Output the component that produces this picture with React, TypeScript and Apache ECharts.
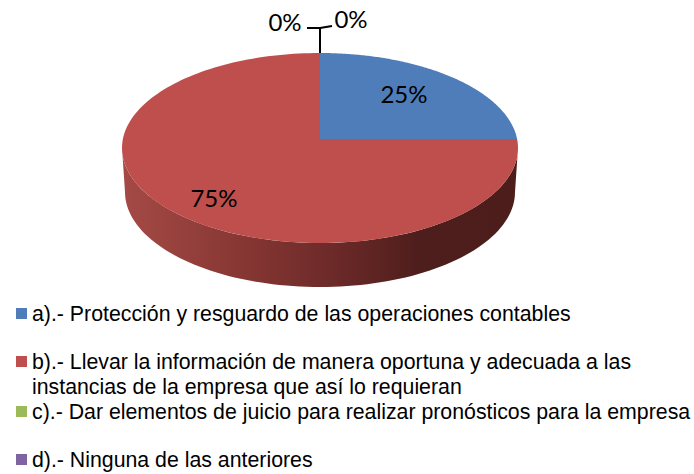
import React, { useEffect, useRef } from "react";
import * as echarts from "echarts";

const categories = [
  "a).- Protección y resguardo de las operaciones contables",
  "b).- Llevar la información de manera oportuna y adecuada a las",
  "c).- Dar elementos de juicio para realizar pronósticos para la empresa",
  "d).- Ninguna de las anteriores",
];
const secondLine = "instancias de la empresa que así lo requieran";
const values = [25, 75, 0, 0];
const colors = ["#4F7DBA", "#BE4F4C", "#9BBB59", "#8064A2"];

const CX = 320, CY = 148, RX = 198, RY = 95, APEX_Y = 139, DEPTH = 44, RX_LOW = 195;
const labelPos = [[404, 93], [214, 197], [285, 21], [351, 18]];
const legendCenters = [314, 362, 412, 460];
const LEGEND_FONT = 21.3;
const total = values.reduce((a, b) => a + b, 0);

// Ellipse parameter hit by the ray leaving the apex at pie angle t (clockwise from top).
function rayPhi(t: number) {
  const p = (CY - APEX_Y) / RY; // apex height above the ellipse centre, unit circle space
  const dx = Math.sin(t), dy = Math.cos(t);
  const b = p * dy;
  const s = -b + Math.sqrt(b * b - (p * p - 1));
  return Math.atan2(dx * s, p + dy * s);
}
const norm = (a: number) => (a < -1e-9 ? a + Math.PI * 2 : a);
const rimPoint = (phi: number, drop = 0, rx = RX) => [CX + rx * Math.sin(phi), CY - RY * Math.cos(phi) + drop];

function renderSlice(params: any, api: any) {
  const i = params.seriesIndex;
  const v = api.value(0);
  const startT = (values.slice(0, i).reduce((a, b) => a + b, 0) / total) * Math.PI * 2;
  const endT = startT + (v / total) * Math.PI * 2;
  const children: any[] = [];
  if (v > 0) {
    const a0 = norm(rayPhi(startT));
    let a1 = norm(rayPhi(endT));
    if (a1 <= a0) a1 += Math.PI * 2;
    const lo = Math.max(a0, Math.PI / 2), hi = Math.min(a1, (Math.PI * 3) / 2);
    if (hi > lo) {
      const top: number[][] = [], bottom: number[][] = [];
      for (let k = 0; k <= 90; k++) {
        const phi = lo + ((hi - lo) * k) / 90;
        top.push(rimPoint(phi));
        bottom.unshift(rimPoint(phi, DEPTH, RX_LOW));
      }
      children.push({
        type: "polygon",
        shape: { points: [...top, ...bottom] },
        style: {
          fill: new echarts.graphic.LinearGradient(0, 0, 1, 0, [
            { offset: 0, color: "#A54A46" },
            { offset: 0.3, color: "#873733" },
            { offset: 0.55, color: "#6A2928" },
            { offset: 0.75, color: "#4E1E1C" },
            { offset: 1, color: "#4C1D1B" },
          ]),
        },
      });
    }
    const face: number[][] = [[CX, APEX_Y]];
    for (let k = 0; k <= 180; k++) face.push(rimPoint(a0 + ((a1 - a0) * k) / 180));
    children.push({ type: "polygon", shape: { points: face }, style: { fill: colors[i] } });
  }
  children.push({
    type: "text",
    z2: 10,
    style: {
      x: labelPos[i][0],
      y: labelPos[i][1],
      text: `${Math.round((v / total) * 100)}%`,
      fill: "#000",
      font: '24px Lato, sans-serif',
      align: "center",
      verticalAlign: "middle",
    },
  });
  // Leader lines of the two empty slices
  if (v === 0) {
    const elbow = i === 2 ? [[320, 53], [320, 28], [307, 28]] : [[320, 28], [332, 26]];
    children.push({
      type: "polyline",
      z2: 10,
      shape: { points: elbow },
      style: { stroke: "#000", lineWidth: 2, fill: "none" },
    });
  }
  return { type: "group", children };
}

export default function App() {
  const ref = useRef<HTMLDivElement>(null);
  useEffect(() => {
    const chart = echarts.init(ref.current!, null, { renderer: "svg" });
    chart.setOption({
      animation: false,
      backgroundColor: "#fff",
      legend: categories.map((name, i) => ({
        data: [name],
        left: 16,
        top: legendCenters[i] - 11,
        itemWidth: 11,
        itemHeight: 11,
        itemGap: 0,
        icon: "rect",
        selectedMode: false,
        padding: 0,
        textStyle: { fontFamily: "Liberation Sans", fontSize: LEGEND_FONT, color: "#000", padding: [0, 0, 0, 0] },
      })),
      graphic: [
        {
          type: "text",
          x: 32,
          y: 387,
          style: {
            text: secondLine,
            font: `${LEGEND_FONT}px "Liberation Sans"`,
            fill: "#000",
            verticalAlign: "middle",
          },
        },
      ],
      series: categories.map((name, i) => ({
        type: "custom",
        name,
        coordinateSystem: "none",
        renderItem: renderSlice,
        data: [[values[i]]],
        itemStyle: { color: colors[i] },
        silent: true,
      })),
    });
    return () => chart.dispose();
  }, []);
  return <div ref={ref} style={{ position: "absolute", left: 0, top: 0, width: 694, height: 474 }} />;
}
